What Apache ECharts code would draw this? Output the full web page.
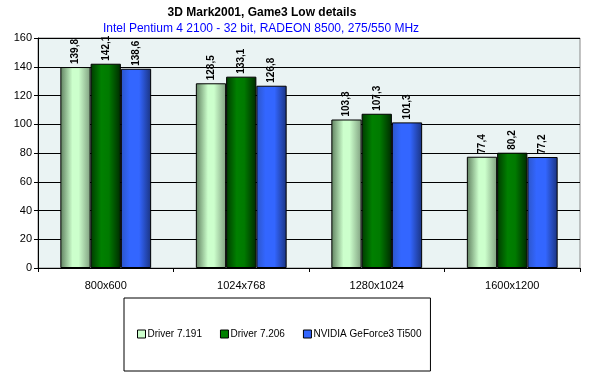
<!DOCTYPE html>
<html>
<head>
<meta charset="utf-8">
<script src="https://cdn.jsdelivr.net/npm/echarts@6/dist/echarts.min.js"></script>
<style>
  html, body { margin: 0; padding: 0; background: #fff; }
  #chart { width: 590px; height: 376px; }
</style>
</head>
<body>
<div id="chart"></div>
<script>
var categories = ['800x600', '1024x768', '1280x1024', '1600x1200'];
var seriesNames = ['Driver 7.191', 'Driver 7.206', 'NVIDIA GeForce3 Ti500'];
var driver7191 = [139.8, 128.5, 103.3, 77.4];
var driver7206 = [142.1, 133.1, 107.3, 80.2];
var geforce3 = [138.6, 126.8, 101.3, 77.2];
var yTicks = [0, 20, 40, 60, 80, 100, 120, 140, 160];

var font = 'Liberation Sans, Arial, sans-serif';

function grad(stops) {
    return new echarts.graphic.LinearGradient(0, 0, 1, 0, stops.map(function (s) {
        return { offset: s[0], color: s[1] };
    }));
}

var fills = [
    grad([[0, '#5f7f5f'], [0.4, '#ccffcc'], [0.6, '#ccffcc'], [1, '#7f9f7f']]),
    grad([[0, '#003a00'], [0.35, '#008000'], [0.6, '#007a00'], [1, '#002a00']]),
    grad([[0, '#2c55c8'], [0.3, '#3366ff'], [0.6, '#3366ff'], [1, '#1a3380']])
];
var legendColors = ['#ccffcc', '#008000', '#3366ff'];
var values = [driver7191, driver7206, geforce3];

var chart = echarts.init(document.getElementById('chart'));

var option = {
    backgroundColor: '#ffffff',
    animation: false,
    title: [
        {
            text: '3D Mark2001, Game3 Low details',
            left: 257, top: 2, textAlign: 'center',
            textStyle: { fontFamily: font, fontSize: 12, fontWeight: 'bold', color: '#000' }
        },
        {
            text: 'Intel Pentium 4 2100 - 32 bit, RADEON 8500, 275/550 MHz',
            left: 256, top: 18, textAlign: 'center',
            textStyle: { fontFamily: font, fontSize: 12, fontWeight: 'normal', color: '#0000ff' }
        }
    ],
    legend: {
        left: 124, top: 298,
        orient: 'horizontal',
        padding: [31, 9, 32, 13],
        borderColor: '#000', borderWidth: 1,
        itemWidth: 8, itemHeight: 8, itemGap: 18,
        icon: 'rect',
        textStyle: { fontFamily: font, fontSize: 10, color: '#000', padding: [0, 0, 0, -3] },
        data: seriesNames.map(function (n, i) {
            return { name: n, itemStyle: { color: legendColors[i], borderColor: '#000', borderWidth: 1 } };
        })
    },
    grid: { left: 38, right: 10, top: 38, bottom: 108, show: true, backgroundColor: '#eaf3f3', borderColor: '#888', borderWidth: 1 },
    xAxis: {
        type: 'category',
        data: categories,
        axisLine: { lineStyle: { color: '#000' } },
        axisTick: { show: true, length: 4, lineStyle: { color: '#000' } },
        axisLabel: { fontFamily: font, fontSize: 11, color: '#000', margin: 12 }
    },
    yAxis: {
        type: 'value',
        min: yTicks[0], max: yTicks[yTicks.length - 1], interval: 20,
        axisLine: { show: true, lineStyle: { color: '#000' } },
        axisTick: { show: true, length: 4, lineStyle: { color: '#000' } },
        axisLabel: { fontFamily: font, fontSize: 11, color: '#000', margin: 6 },
        splitLine: { lineStyle: { color: '#000', width: 1 } }
    },
    series: values.map(function (vals, i) {
        return {
            name: seriesNames[i],
            type: 'bar',
            data: vals,
            barGap: '0%',
            barCategoryGap: '33%',
            itemStyle: { color: fills[i], borderColor: '#000', borderWidth: 1 },
            label: {
                show: true,
                position: 'top',
                rotate: 90,
                align: 'left',
                verticalAlign: 'middle',
                distance: 3,
                fontFamily: font, fontSize: 10, fontWeight: 'bold', color: '#000',
                formatter: function (p) { return p.value.toFixed(1).replace('.', ','); }
            }
        };
    })
};

chart.setOption(option);
</script>
</body>
</html>
